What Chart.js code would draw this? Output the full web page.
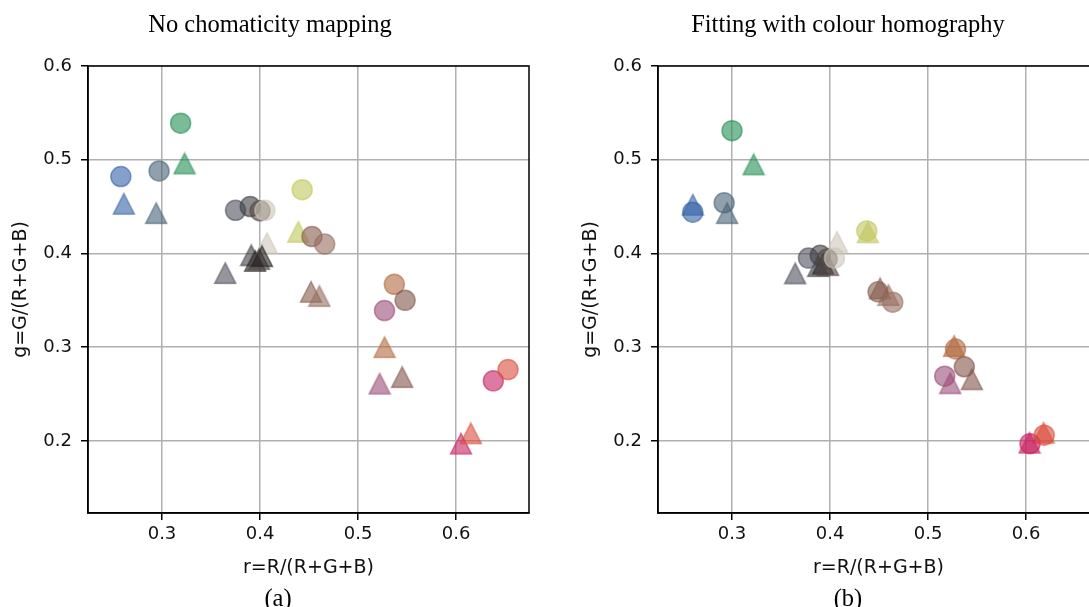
<!DOCTYPE html>
<html lang="en">
<head>
  <meta charset="UTF-8" />
  <title>Chromaticity scatter</title>
  <script src="https://cdn.jsdelivr.net/npm/chart.js@4.4.0/dist/chart.umd.min.js"></script>
  <style>
    html, body { margin: 0; padding: 0; background: #fff; overflow: hidden; width: 1089px; height: 607px; }
    .panel { position: absolute; top: 0; width: 545px; height: 607px; }
    #panelA { left: 0; }
    #panelB { left: 570px; }
    .caption {
      position: absolute;
      font-family: "Liberation Serif", "Times New Roman", serif;
      font-size: 24.5px;
      line-height: 26px;
      color: #000;
      white-space: nowrap;
      transform: translateX(-50%);
    }
  </style>
</head>
<body>
  <div class="panel" id="panelA"><canvas id="chartA" width="545" height="607"></canvas></div>
  <div class="panel" id="panelB"><canvas id="chartB" width="545" height="607"></canvas></div>

  <div class="caption" style="left:270px; top:11px;">No chomaticity mapping</div>
  <div class="caption" style="left:848px; top:11px;">Fitting with colour homography</div>
  <div class="caption" style="left:278px; top:585px;">(a)</div>
  <div class="caption" style="left:848px; top:585px;">(b)</div>

  <script>
    /* ---- axes ---- */
    var rMin = 0.2245, rMax = 0.6744;
    var gMin = 0.123, gMax = 0.6;
    var rTicks = [0.3, 0.4, 0.5, 0.6];
    var gTicks = [0.2, 0.3, 0.4, 0.5, 0.6];

    /* ---- patch colours (base colour, drawn semi-transparent) ---- */
    var patchColours = [
      [52, 99, 165],   // 0 blue
      [70, 98, 119],   // 1 slate
      [34, 141, 84],   // 2 green
      [191, 198, 91],  // 3 yellow green
      [62, 62, 69],    // 4 dark grey
      [35, 35, 35],    // 5 near black
      [85, 72, 66],    // 6 dark brownish grey
      [205, 198, 184], // 7 light beige
      [134, 91, 77],   // 8 brown
      [150, 110, 95],  // 9 light brown
      [176, 105, 62],  // 10 orange brown
      [130, 85, 75],   // 11 dark brown
      [155, 76, 119],  // 12 mauve
      [198, 34, 98],   // 13 pink red
      [219, 76, 62],   // 14 orange red
      [76, 79, 91]     // 15 grey
    ];

    /* ---- (a) no chromaticity mapping ---- */
    var aCircR = [0.258, 0.297, 0.319, 0.443, 0.375, 0.390, 0.400, 0.405, 0.453, 0.466, 0.537, 0.548, 0.527, 0.638, 0.653];
    var aCircG = [0.482, 0.488, 0.539, 0.468, 0.446, 0.450, 0.4455, 0.446, 0.418, 0.410, 0.367, 0.350, 0.339, 0.264, 0.276];
    var aCircP = [0, 1, 2, 3, 15, 4, 6, 7, 8, 9, 10, 11, 12, 13, 14];

    var aTriR = [0.261, 0.294, 0.323, 0.439, 0.407, 0.391, 0.395, 0.399, 0.402, 0.3645, 0.452, 0.4605, 0.527, 0.522, 0.545, 0.605, 0.615];
    var aTriG = [0.453, 0.443, 0.496, 0.423, 0.411, 0.398, 0.392, 0.394, 0.397, 0.379, 0.359, 0.3545, 0.300, 0.261, 0.268, 0.197, 0.208];
    var aTriP = [0, 1, 2, 3, 7, 4, 5, 6, 5, 15, 8, 9, 10, 12, 11, 13, 14];

    /* ---- (b) fitting with colour homography ---- */
    var bCircR = [0.260, 0.292, 0.300, 0.4375, 0.378, 0.390, 0.397, 0.4045, 0.449, 0.464, 0.528, 0.537, 0.517, 0.604, 0.6185];
    var bCircG = [0.444, 0.454, 0.531, 0.424, 0.395, 0.398, 0.394, 0.395, 0.359, 0.348, 0.298, 0.279, 0.269, 0.197, 0.206];
    var bCircP = [0, 1, 2, 3, 15, 4, 6, 7, 8, 9, 10, 11, 12, 13, 14];

    var bTriR = [0.260, 0.295, 0.322, 0.4385, 0.407, 0.388, 0.393, 0.398, 0.3644, 0.451, 0.4596, 0.5266, 0.5226, 0.5447, 0.6035, 0.6178];
    var bTriG = [0.452, 0.443, 0.495, 0.4225, 0.4124, 0.3865, 0.389, 0.3875, 0.3787, 0.3627, 0.3555, 0.3012, 0.2614, 0.2657, 0.198, 0.2087];
    var bTriP = [0, 1, 2, 3, 7, 4, 5, 6, 15, 8, 9, 10, 12, 11, 13, 14];

    var ALPHA = 0.6;

    function rgba(p) {
      var c = patchColours[p];
      return "rgba(" + c[0] + "," + c[1] + "," + c[2] + "," + ALPHA + ")";
    }

    /* matplotlib-like '^' marker: bbox centred on the point */
    var triCache = {};
    function triangle(p) {
      if (triCache[p]) return triCache[p];
      var cv = document.createElement("canvas");
      cv.width = 24; cv.height = 24;
      var ctx = cv.getContext("2d");
      ctx.beginPath();
      ctx.moveTo(12, 1.75);
      ctx.lineTo(1.5, 22.25);
      ctx.lineTo(22.5, 22.25);
      ctx.closePath();
      ctx.fillStyle = rgba(p);
      ctx.fill();
      ctx.lineWidth = 1.5;
      ctx.strokeStyle = rgba(p);
      ctx.stroke();
      triCache[p] = cv;
      return cv;
    }

    function points(rs, gs) {
      return rs.map(function (r, i) { return { x: r, y: gs[i] }; });
    }

    /* full black box around the plot area */
    var frame = {
      id: "frame",
      afterDraw: function (chart) {
        var a = chart.chartArea, ctx = chart.ctx;
        ctx.save();
        ctx.strokeStyle = "#000";
        ctx.lineWidth = 1.5;
        ctx.strokeRect(a.left, a.top, a.right - a.left, a.bottom - a.top);
        ctx.restore();
      }
    };

    function scaleFont(size) { return { family: "DejaVu Sans", size: size }; }

    function makeChart(id, cR, cG, cP, tR, tG, tP) {
      var ctx = document.getElementById(id).getContext("2d");
      return new Chart(ctx, {
        type: "scatter",
        data: {
          datasets: [{
            data: points(cR, cG),
            pointStyle: "circle",
            pointRadius: 10,
            pointHoverRadius: 10,
            borderWidth: 1.5,
            backgroundColor: cP.map(rgba),
            borderColor: cP.map(rgba)
          }, {
            data: points(tR, tG),
            pointStyle: tP.map(triangle),
            pointRadius: 12,
            pointHoverRadius: 12
          }]
        },
        options: {
          responsive: false,
          animation: false,
          events: [],
          layout: { padding: { left: 0, top: 66, right: 16, bottom: 14 } },
          plugins: { legend: { display: false }, tooltip: { enabled: false } },
          scales: {
            x: {
              type: "linear", min: rMin, max: rMax, z: 1,
              afterBuildTicks: function (s) { s.ticks = rTicks.map(function (v) { return { value: v }; }); },
              afterFit: function (s) { s.height = 80; },
              grid: { color: "#b0b0b0", lineWidth: 1.5, tickLength: 7, tickColor: "#000", tickWidth: 1.5 },
              border: { color: "#000", width: 1.5 },
              ticks: { color: "#111", font: scaleFont(18), padding: 4, maxRotation: 0,
                       callback: function (v) { return v.toFixed(1); } },
              title: { display: true, text: "r=R/(R+G+B)", color: "#111", font: scaleFont(19),
                       padding: { top: 0, bottom: 13.6 } }
            },
            y: {
              type: "linear", min: gMin, max: gMax, z: 1,
              afterBuildTicks: function (s) { s.ticks = gTicks.map(function (v) { return { value: v }; }); },
              afterFit: function (s) { s.width = 88; },
              grid: { color: "#b0b0b0", lineWidth: 1.5, tickLength: 7, tickColor: "#000", tickWidth: 1.5 },
              border: { color: "#000", width: 1.5 },
              ticks: { color: "#111", font: scaleFont(18), padding: 9,
                       callback: function (v) { return v.toFixed(1); } },
              title: { display: true, text: "g=G/(R+G+B)", color: "#111", font: scaleFont(19),
                       padding: { top: 9.5, bottom: 0 } }
            }
          }
        },
        plugins: [frame]
      });
    }

    makeChart("chartA", aCircR, aCircG, aCircP, aTriR, aTriG, aTriP);
    makeChart("chartB", bCircR, bCircG, bCircP, bTriR, bTriG, bTriP);
  </script>
</body>
</html>
